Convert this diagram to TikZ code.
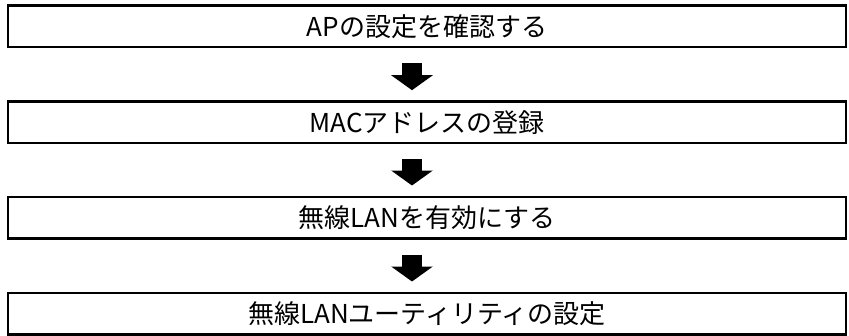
\documentclass[tikz,border=0pt]{standalone}
\usepackage{fontspec}
\setmainfont{Noto Sans CJK JP}
\usetikzlibrary{arrows.meta}
\begin{document}
\begin{tikzpicture}[x=1pt, y=-1pt, font=\fontsize{26}{30}\selectfont,
          stepbox/.style={draw, line width=2.5pt, minimum width=838pt, minimum height=41.5pt, inner sep=0pt},
          flow/.style={line width=20pt, -{Triangle[width=41pt, length=15pt]}, shorten <=15pt, shorten >=10pt}]
        \useasboundingbox (0,0) rectangle (849,335);
        \node[stepbox] (ap) at (427,26.4) {APの設定を確認する};
        \node[stepbox] (mac) at (427,122.2) {MACアドレスの登録};
        \node[stepbox] (lan) at (427,217.5) {無線LANを有効にする};
        \node[stepbox] (util) at (427,313.5) {無線LANユーティリティの設定};
        \draw[flow] ([xshift=-15pt]ap.south) -- ([xshift=-15pt]mac.north);
        \draw[flow] ([xshift=-15pt]mac.south) -- ([xshift=-15pt]lan.north);
        \draw[flow] ([xshift=-15pt]lan.south) -- ([xshift=-15pt]util.north);
      \end{tikzpicture}
\end{document}
